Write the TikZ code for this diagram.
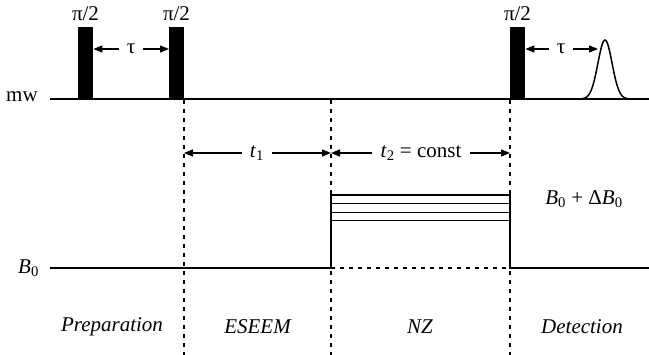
\documentclass[tikz,border=0pt]{standalone}
\usepackage{fontspec}
\setmainfont{Liberation Serif}
\usetikzlibrary{arrows.meta}
\tikzset{
  base/.style={line width=2pt},
  pulse/.style={fill=black, draw=none, minimum width=15pt, minimum height=72pt, inner sep=0pt, anchor=south west},
  lbl/.style={font=\fontsize{21}{24}\selectfont, inner sep=0pt},
  arrlbl/.style={font=\fontsize{21}{24}\selectfont, inner sep=8pt},
  arr/.style={line width=1.3pt, -{Triangle[length=9pt,width=7pt]}},
  guide/.style={line width=1.2pt, dash pattern=on 4pt off 5pt},
  field/.style={line width=1.8pt},
  level/.style={line width=1pt}
}
\begin{document}
\begin{tikzpicture}[x=1pt,y=-1pt]
\useasboundingbox (0,0) rectangle (649,355);
% pulses
\node[pulse] (p1) at (78,99) {};
\node[pulse] (p2) at (169,99) {};
\node[pulse] (p3) at (510,99) {};
\node[lbl] (l1) at (85.5,14) {π/2};
\node[lbl] (l2) at (176.5,14) {π/2};
\node[lbl] (l3) at (517.5,14) {π/2};
% mw baseline
\node[lbl, anchor=west] (mw) at (6,97) {mw};
\coordinate (mwL) at (50,99);
\coordinate (mwR) at (649,99);
\draw[base] (mwL) -- (mwR);
% echo
\draw[line width=1.5pt, domain=576:634, samples=80, smooth] plot (\x, {99-59*exp(-((\x-605)/10)^2)});
\coordinate (echo) at (598,49);
% tau arrows
\node[arrlbl] (tau1) at (131,49) {τ};
\draw[arr] (tau1.west) -- (p1.east |- tau1.west);
\draw[arr] (tau1.east) -- (p2.west |- tau1.east);
\node[arrlbl] (tau2) at (561,49) {τ};
\draw[arr] (tau2.west) -- (p3.east |- tau2.west);
\draw[arr] (tau2.east) -- (echo);
% guide lines
\coordinate (g1t) at (184,100); \coordinate (g1b) at (184,355);
\coordinate (g2t) at (331,100); \coordinate (g2b) at (331,355);
\coordinate (g3t) at (510,100); \coordinate (g3b) at (510,355);
\draw[guide] (g1t) -- (g1b);
\draw[guide] (g2t) -- (g2b);
\draw[guide] (g3t) -- (g3b);
% t1, t2 arrows
\node[arrlbl] (t1) at (257,153) {\textit{t}\textsubscript{1}};
\draw[arr] (t1.west) -- (g1t |- t1.west);
\draw[arr] (t1.east) -- (g2t |- t1.east);
\node[arrlbl] (t2) at (421,153) {\textit{t}\textsubscript{2} = const};
\draw[arr] (t2.west) -- (g2t |- t2.west);
\draw[arr] (t2.east) -- (g3t |- t2.east);
% B0 line
\node[lbl, anchor=west] (B0) at (18,268) {\textit{B}\textsubscript{0}};
\coordinate (bL) at (50,268);
\coordinate (bA) at (331,268);
\coordinate (bB) at (331,195);
\coordinate (bC) at (510,195);
\coordinate (bD) at (510,268);
\coordinate (bR) at (649,268);
\draw[field] (bL) -- (bA) -- (bB) -- (bC) -- (bD) -- (bR);
\draw[guide, line width=1.2pt] (bA) -- (bD);
\coordinate (lv1a) at (331,204); \coordinate (lv1b) at (510,204);
\coordinate (lv2a) at (331,213); \coordinate (lv2b) at (510,213);
\coordinate (lv3a) at (331,221); \coordinate (lv3b) at (510,221);
\draw[level] (lv1a) -- (lv1b);
\draw[level] (lv2a) -- (lv2b);
\draw[level] (lv3a) -- (lv3b);
\node[lbl] (dB) at (584,199) {\textit{B}\textsubscript{0} + Δ\textit{B}\textsubscript{0}};
% stage labels
\node[lbl] (s1) at (112,327) {\textit{Preparation}};
\node[lbl] (s2) at (258,327) {\textit{ESEEM}};
\node[lbl] (s3) at (420,327) {\textit{NZ}};
\node[lbl] (s4) at (582,327) {\textit{Detection}};
\end{tikzpicture}
\end{document}
